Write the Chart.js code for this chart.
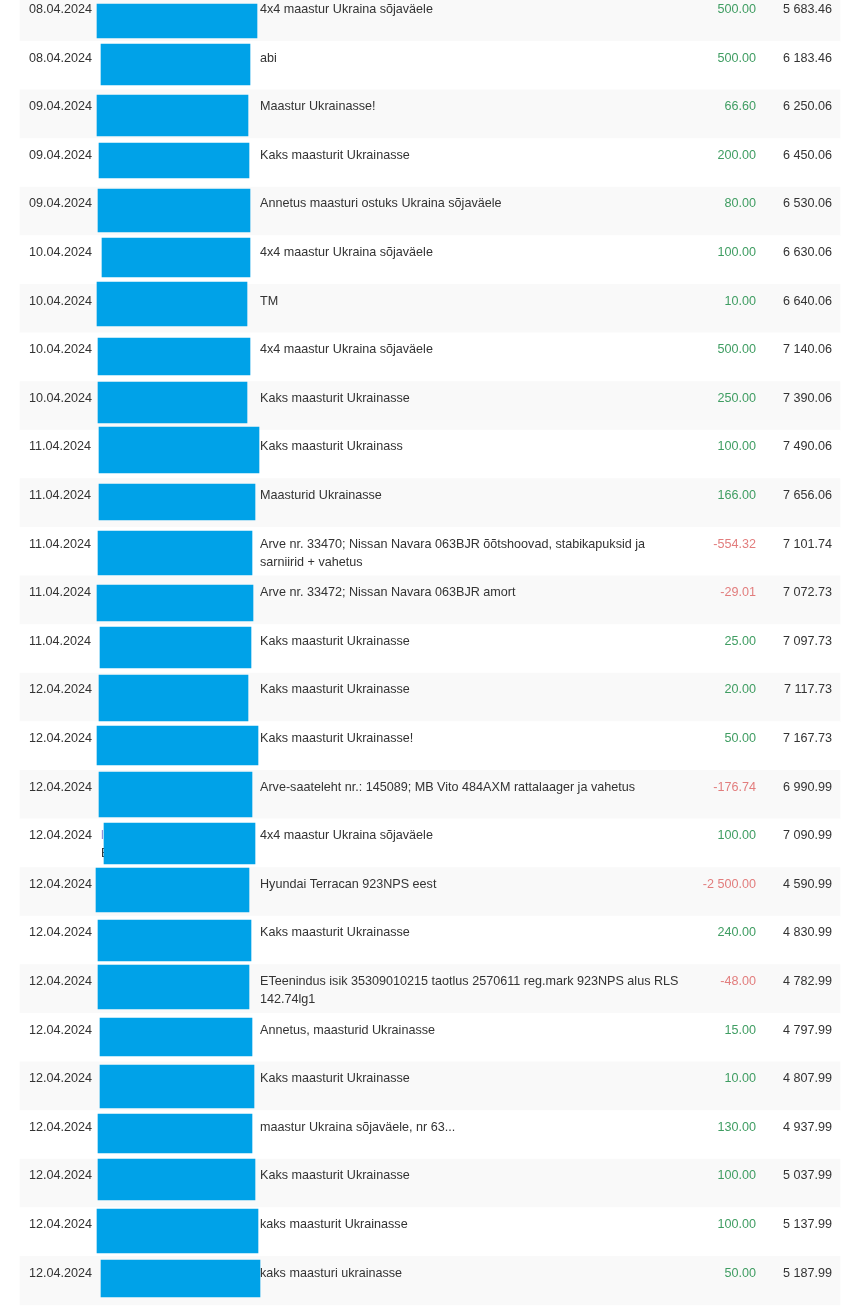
<!DOCTYPE html>
<html lang="et">
<head>
    <meta charset="UTF-8">
    <title>Konto väljavõte</title>
    <script src="https://cdn.jsdelivr.net/npm/chart.js@4.4.0/dist/chart.umd.min.js"></script>
    <style>
        html, body { margin: 0; padding: 0; background: #ffffff; }
        #wrap { width: 864px; height: 1310px; }
    </style>
</head>
<body>
<div id="wrap"><canvas id="statement" width="864" height="1310"></canvas></div>

<script>
    // rows of the statement
    const dates = [
        '08.04.2024', '08.04.2024', '09.04.2024', '09.04.2024', '09.04.2024',
        '10.04.2024', '10.04.2024', '10.04.2024', '10.04.2024', '11.04.2024',
        '11.04.2024', '11.04.2024', '11.04.2024', '11.04.2024', '12.04.2024',
        '12.04.2024', '12.04.2024', '12.04.2024', '12.04.2024', '12.04.2024',
        '12.04.2024', '12.04.2024', '12.04.2024', '12.04.2024', '12.04.2024',
        '12.04.2024', '12.04.2024'
    ];
    const descriptions = [
        '4x4 maastur Ukraina sõjaväele',
        'abi',
        'Maastur Ukrainasse!',
        'Kaks maasturit Ukrainasse',
        'Annetus maasturi ostuks Ukraina sõjaväele',
        '4x4 maastur Ukraina sõjaväele',
        'TM',
        '4x4 maastur Ukraina sõjaväele',
        'Kaks maasturit Ukrainasse',
        'Kaks maasturit Ukrainass',
        'Maasturid Ukrainasse',
        'Arve nr. 33470; Nissan Navara 063BJR õõtshoovad, stabikapuksid ja\nsarniirid + vahetus',
        'Arve nr. 33472; Nissan Navara 063BJR amort',
        'Kaks maasturit Ukrainasse',
        'Kaks maasturit Ukrainasse',
        'Kaks maasturit Ukrainasse!',
        'Arve-saateleht nr.: 145089; MB Vito 484AXM rattalaager ja vahetus',
        '4x4 maastur Ukraina sõjaväele',
        'Hyundai Terracan 923NPS eest',
        'Kaks maasturit Ukrainasse',
        'ETeenindus isik 35309010215 taotlus 2570611 reg.mark 923NPS alus RLS\n142.74lg1',
        'Annetus, maasturid Ukrainasse',
        'Kaks maasturit Ukrainasse',
        'maastur Ukraina sõjaväele, nr 63...',
        'Kaks maasturit Ukrainasse',
        'kaks maasturit Ukrainasse',
        'kaks maasturi ukrainasse'
    ];
    const amounts = [
        500.00, 500.00, 66.60, 200.00, 80.00, 100.00, 10.00, 500.00, 250.00, 100.00,
        166.00, -554.32, -29.01, 25.00, 20.00, 50.00, -176.74, 100.00, -2500.00, 240.00,
        -48.00, 15.00, 10.00, 130.00, 100.00, 100.00, 50.00
    ];
    const balances = [
        5683.46, 6183.46, 6250.06, 6450.06, 6530.06, 6630.06, 6640.06, 7140.06, 7390.06, 7490.06,
        7656.06, 7101.74, 7072.73, 7097.73, 7117.73, 7167.73, 6990.99, 7090.99, 4590.99, 4830.99,
        4782.99, 4797.99, 4807.99, 4937.99, 5037.99, 5137.99, 5187.99
    ];
    // payer column, mostly painted over
    const payers = {17: 'l\nE'};

    // painted-over payer boxes (page px)
    const boxLeft   = [97, 101, 97, 99, 98, 102, 97, 98, 98, 99, 99, 98, 97, 100, 99, 97, 99, 104, 96, 98, 98, 100, 100, 98, 98, 97, 101];
    const boxRight  = [257, 250, 248, 249, 250, 250, 247, 250, 247, 259, 255, 252, 253, 251, 248, 258, 252, 255, 249, 251, 249, 252, 254, 252, 255, 258, 260];
    const boxTop    = [4, 44, 95, 143, 189, 238, 282, 338, 382, 427, 484, 531, 585, 627, 675, 726, 772, 823, 868, 920, 965, 1018, 1065, 1114, 1159, 1209, 1260];
    const boxBottom = [38, 85, 136, 178, 232, 277, 326, 375, 423, 473, 520, 575, 621, 668, 721, 765, 817, 864, 912, 961, 1009, 1056, 1108, 1153, 1200, 1253, 1297];

    const ROW_PX = 48.6;           // height of one table row
    const Y_MIN = 7.3 / ROW_PX;    // first row is scrolled a bit out of view
    const Y_MAX = Y_MIN + 1310 / ROW_PX;
    const FONT = '12.6px "Liberation Sans", Arial, sans-serif';

    function fmt(v) {
        const parts = Math.abs(v).toFixed(2).split('.');
        return (v < 0 ? '-' : '') + parts[0].replace(/\B(?=(\d{3})+(?!\d))/g, ' ') + '.' + parts[1];
    }

    const rowIdx = dates.map((d, i) => i);

    // zebra rows, drawn underneath everything (higher order = drawn first)
    const stripes = {
        data: rowIdx.map(i => ({ x: [20, 840], y: i + 0.5 })),
        backgroundColor: ctx => ctx.dataIndex % 2 === 0 ? '#f9f9f9' : '#ffffff',
        barThickness: ROW_PX,
        grouped: false,
        borderWidth: 0,
        order: 2
    };

    const boxes = rowIdx.map(i => ({
        data: [{ x: [boxLeft[i], boxRight[i]], y: (boxTop[i] + boxBottom[i]) / 2 / ROW_PX + Y_MIN }],
        backgroundColor: '#00a2e8',
        barThickness: boxBottom[i] - boxTop[i],
        grouped: false,
        borderWidth: 0,
        order: 1
    }));

    // text goes between the row stripes and the blue boxes
    const tableText = {
        id: 'tableText',
        afterDatasetDraw(chart, args) {
            if (args.index !== 0) return;
            const c = chart.ctx;
            const x = chart.scales.x;
            const y = chart.scales.y;
            c.save();
            c.font = FONT;
            c.textBaseline = 'alphabetic';
            rowIdx.forEach(i => {
                const base = y.getPixelForValue(i) + 20.3;
                c.fillStyle = '#333333';
                c.textAlign = 'left';
                c.fillText(dates[i], x.getPixelForValue(29), base);
                descriptions[i].split('\n').forEach((line, k) => {
                    c.fillText(line, x.getPixelForValue(260), base + k * 18);
                });
                if (payers[i]) {
                    payers[i].split('\n').forEach((line, k) => {
                        c.fillStyle = k === 0 ? '#8c8cd6' : '#333333';
                        c.fillText(line, x.getPixelForValue(101), base + k * 18);
                    });
                }
                c.textAlign = 'right';
                c.fillStyle = amounts[i] < 0 ? '#e27d7d' : '#3f9d62';
                c.fillText(fmt(amounts[i]), x.getPixelForValue(756), base);
                c.fillStyle = '#333333';
                c.fillText(fmt(balances[i]), x.getPixelForValue(832), base);
            });
            c.restore();
        }
    };

    new Chart(document.getElementById('statement'), {
        type: 'bar',
        data: {
            labels: dates,
            datasets: [stripes].concat(boxes)
        },
        options: {
            indexAxis: 'y',
            responsive: false,
            animation: false,
            layout: { padding: 0, autoPadding: false },
            plugins: {
                legend: { display: false },
                tooltip: { enabled: false }
            },
            scales: {
                x: { type: 'linear', min: 0, max: 864, offset: false, display: false },
                y: {
                    type: 'linear', min: Y_MIN, max: Y_MAX, reverse: true,
                    offset: false, bounds: 'data', grace: 0, display: false
                }
            }
        },
        plugins: [tableText]
    });
</script>
</body>
</html>
